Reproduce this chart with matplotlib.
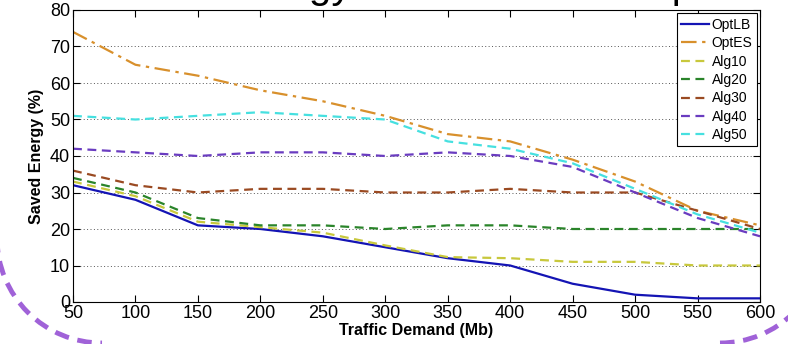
import matplotlib
matplotlib.use('Agg')

import matplotlib.pyplot as plt
from matplotlib.patches import Arc
from matplotlib.transforms import IdentityTransform

# 데이터
demand = [50, 100, 150, 200, 250, 300, 350, 400, 450, 500, 550, 600]
opt_lb = [32, 28, 21, 20, 18, 15, 12, 10, 5, 2, 1, 1]
opt_es = [74, 65, 62, 58, 55, 51, 46, 44, 39, 33, 25, 21]
alg10 = [33, 29, 22, 20.5, 19, 15.5, 12.3, 12, 11, 11, 10, 10]
alg20 = [34, 30, 23, 21, 21, 20, 21, 21, 20, 20, 20, 20]
alg30 = [36, 32, 30, 31, 31, 30, 30, 31, 30, 30, 25, 20]
alg40 = [42, 41, 40, 41, 41, 40, 41, 40, 37, 30, 23, 18]
alg50 = [51, 50, 51, 52, 51, 50, 44, 42, 38, 31, 24, 19]

series = [
    ("OptLB", opt_lb, "#1414b4", "-"),
    ("OptES", opt_es, "#d8902c", (0, (7, 2.5, 1.5, 2.5))),
    ("Alg10", alg10, "#c8c83c", (0, (4, 2.5))),
    ("Alg20", alg20, "#2a842a", (0, (4, 2.5))),
    ("Alg30", alg30, "#9a4a22", (0, (4, 2.5))),
    ("Alg40", alg40, "#6a3cc0", (0, (4, 2.5))),
    ("Alg50", alg50, "#46e0e0", (0, (4, 2.5))),
]

plt.rcParams['font.family'] = ['Liberation Sans', 'DejaVu Sans']

fig = plt.figure(figsize=(7.88, 3.44), dpi=100)
ax = fig.add_axes([73 / 788, 1 - 302 / 344, (760 - 73) / 788, (302 - 10) / 344])

for name, vals, color, ls in series:
    ax.plot(demand, vals, color=color, linestyle=ls, linewidth=1.6, label=name)

ax.set_xlim(50, 600)
ax.set_ylim(0, 80)
ax.set_xticks(range(50, 601, 50))
ax.set_yticks(range(0, 81, 10))
ax.yaxis.grid(True, linestyle=(0, (1, 2.5)), color='#555555', linewidth=0.7)
ax.tick_params(direction='in', top=True, right=True, length=5, width=0.8,
               labelsize=13, pad=2)
for s in ax.spines.values():
    s.set_linewidth(0.8)

ax.set_xlabel("Traffic Demand (Mb)", fontsize=11.5, fontweight='bold', labelpad=1)
ax.set_ylabel("Saved Energy (%)", fontsize=11.5, fontweight='bold', labelpad=4)

leg = ax.legend(loc='upper right', bbox_to_anchor=(1.0, 1.0), fontsize=10,
                handlelength=2.0, handletextpad=0.2, labelspacing=0.32,
                borderpad=0.3, borderaxespad=0.25, fancybox=False,
                edgecolor='black', framealpha=1)
leg.get_frame().set_linewidth(0.8)

# 슬라이드 제목 (위쪽이 잘려 있음, 아래 부분만 보임)
fig.text(224 / 788, 1 + 2 / 344, "Energy Results and Comparison", fontsize=29,
         va='baseline', ha='left', zorder=0)

# 보라색 점선 모서리 (슬라이드 장식, 픽셀 좌표, 원점은 왼쪽 아래)
for cx, t1, t2 in [(102, 180, 270), (720, 270, 360)]:
    corner = Arc((cx, 344 - 238), 210, 210, theta1=t1, theta2=t2,
                 transform=IdentityTransform(), edgecolor='#a062d8',
                 linewidth=3.5, linestyle=(0, (3, 1.8)), zorder=-1)
    fig.add_artist(corner)

plt.savefig("out.png", dpi=100)
plt.close()
